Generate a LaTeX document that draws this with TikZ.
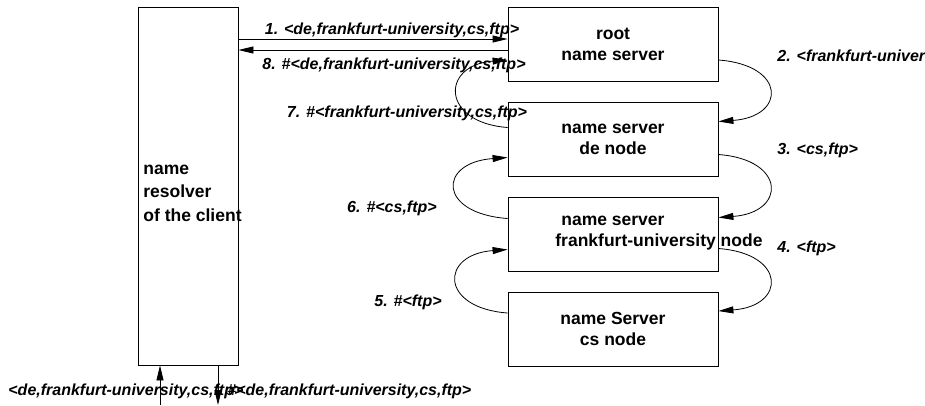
\documentclass[tikz,border=0pt]{standalone}
\usepackage{fontspec}
\setmainfont{Liberation Sans}
\usetikzlibrary{arrows.meta}

\begin{document}
\begin{tikzpicture}[x=1pt,y=-1pt,line width=0.8pt,
    srvbox/.style={shape=rectangle,draw,minimum width=210pt,minimum height=74pt,align=center,inner sep=0pt,font=\fontsize{17.5}{21}\selectfont\bfseries},
    boxtext/.style={align=left,inner sep=0pt,font=\fontsize{17.5}{21}\selectfont\bfseries},
    msgtext/.style={inner sep=0pt,font=\fontsize{16}{18}\selectfont\bfseries\itshape},
    msg/.style={-{Triangle[length=15pt,width=7pt]}}]
    \useasboundingbox (0,0) rectangle (925,405);
    % client side
    \node[shape=rectangle,draw,minimum width=100pt,minimum height=358pt] (client) at (188,186) {};
    \node[boxtext,anchor=west,font=\fontsize{17.5}{23.5}\selectfont\bfseries] (clienttext) at (143,193) {name\\resolver\\of the client};
    % name servers
    \node[srvbox] (root) at (613,44)    {root\\name server};
    \node[srvbox] (de)   at (613,139.5) {name server\\de node};
    \node[srvbox] (uni)  at (613,234.5) {};
    \node[boxtext,anchor=west] (unitext) at (555,233) {\hspace*{6pt}name server\\frankfurt-university node};
    \node[srvbox] (cs)   at (613,329)   {name Server\\cs node};
    % request and answer of the client
    \coordinate (q1) at ([yshift=5pt]root.west);
    \coordinate (q8) at ([yshift=-6pt]root.west);
    \draw[msg] (q1 -| client.east) -- (q1);
    \draw[msg] (q8) -- (q8 -| client.east);
    % going down
    \draw[msg] ([yshift=-16pt]root.east) .. controls +(68,5) and +(68,-5) .. ([yshift=18pt]de.east);
    \draw[msg] ([yshift=-15pt]de.east) .. controls +(68,5) and +(68,-5) .. ([yshift=17pt]uni.east);
    \draw[msg] ([yshift=-14pt]uni.east) .. controls +(68,5) and +(68,-5) .. ([yshift=18pt]cs.east);
    % coming back
    \draw[msg] ([yshift=16pt]cs.west) .. controls +(-68,-5) and +(-68,5) .. ([yshift=-15pt]uni.west);
    \draw[msg] ([yshift=16pt]uni.west) .. controls +(-70,-5) and +(-70,5) .. ([yshift=-18pt]de.west);
    \draw[msg] ([yshift=12pt]de.west) .. controls +(-67,-5) and +(-67,5) .. ([yshift=-16pt]root.west);
    % bottom of the client
    \coordinate (inlow) at (160,405);
    \coordinate (outlow) at (218,405);
    \draw[msg] (inlow) -- (inlow |- client.south);
    \draw[msg] (outlow |- client.south) -- (outlow);
    % messages
    \node[msgtext] (m1) at (392,30)  {1. <de,frankfurt-university,cs,ftp>};
    \node[msgtext] (m8) at (394,65)  {8. \#<de,frankfurt-university,cs,ftp>};
    \node[msgtext] (m7) at (407,113) {7. \#<frankfurt-university,cs,ftp>};
    \node[msgtext] (m6) at (392,208) {6. \#<cs,ftp>};
    \node[msgtext] (m5) at (408,302) {5. \#<ftp>};
    \node[msgtext,anchor=west] (m2) at (777,57)  {2. <frankfurt-university,cs,ftp>};
    \node[msgtext,anchor=west] (m3) at (777,150) {3. <cs,ftp>};
    \node[msgtext,anchor=west] (m4) at (777,248) {4. <ftp>};
    \node[msgtext,anchor=west] (min)  at (8,391)   {<de,frankfurt-university,cs,ftp>};
    \node[msgtext,anchor=west] (mout) at (227,391) {\#<de,frankfurt-university,cs,ftp>};
\end{tikzpicture}
\end{document}
